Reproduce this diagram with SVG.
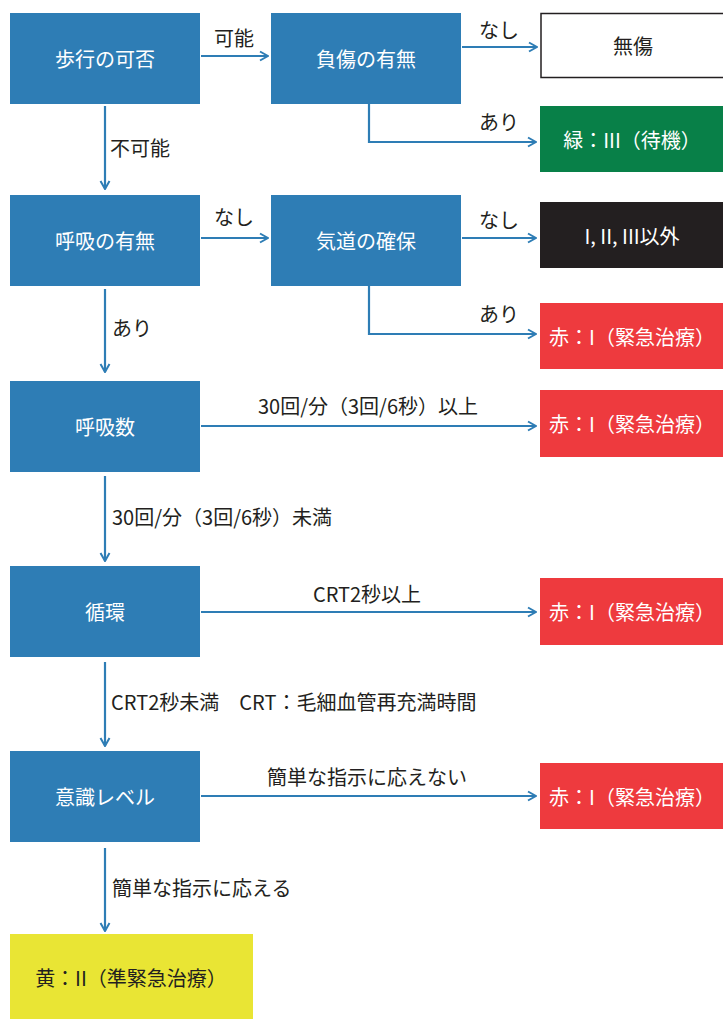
<svg xmlns="http://www.w3.org/2000/svg" width="723" height="1019" viewBox="0 0 723 1019">
<defs>
<marker id="arr" viewBox="0 0 12 12" refX="11" refY="6" markerWidth="12" markerHeight="12" markerUnits="userSpaceOnUse" orient="auto">
<polyline points="3,1.5 11,6 3,10.5" fill="none" stroke="#2e7db5" stroke-width="2"/>
</marker>
</defs>
<style>
text{font-family:"Noto Sans CJK JP","Noto Sans",sans-serif;font-size:20px;dominant-baseline:central}
.box{fill:#2e7db5}
.w{fill:#ffffff;text-anchor:middle}
.d{fill:#231f20}
.c{text-anchor:middle}
.red{fill:#ee3a3e}
.con{fill:none;stroke:#2e7db5;stroke-width:2.2;marker-end:url(#arr)}
</style>
<rect width="723" height="1019" fill="#ffffff"/>
<g id="connectors">
<line class="con" x1="201" y1="56" x2="268" y2="56"/>
<line class="con" x1="105" y1="106" x2="105" y2="189"/>
<line class="con" x1="462" y1="47" x2="537" y2="47"/>
<polyline class="con" points="369,104 369,142 536,142"/>
<line class="con" x1="201" y1="238" x2="268" y2="238"/>
<line class="con" x1="462" y1="238" x2="536" y2="238"/>
<polyline class="con" points="369,286 369,334 536,334"/>
<line class="con" x1="105" y1="289" x2="105" y2="372"/>
<line class="con" x1="201" y1="426" x2="536" y2="426"/>
<line class="con" x1="105" y1="476" x2="105" y2="561"/>
<line class="con" x1="201" y1="612" x2="536" y2="612"/>
<line class="con" x1="105" y1="662" x2="105" y2="746"/>
<line class="con" x1="201" y1="796" x2="536" y2="796"/>
<line class="con" x1="105" y1="848" x2="105" y2="931"/>
<text class="d c" x="234" y="37">可能</text>
<text class="d" x="110" y="147">不可能</text>
<text class="d c" x="499" y="29">なし</text>
<text class="d c" x="499" y="121">あり</text>
<text class="d c" x="234" y="216">なし</text>
<text class="d c" x="499" y="219">なし</text>
<text class="d c" x="499" y="313">あり</text>
<text class="d" x="112" y="327">あり</text>
<text class="d c" x="368" y="405">30回/分（3回/6秒）以上</text>
<text class="d" x="112" y="516">30回/分（3回/6秒）未満</text>
<text class="d c" x="367" y="593">CRT2秒以上</text>
<text class="d" x="111" y="701">CRT2秒未満　CRT：毛細血管再充満時間</text>
<text class="d c" x="367" y="776">簡単な指示に応えない</text>
<text class="d" x="112" y="887">簡単な指示に応える</text>
</g>
<g id="walk"><rect class="box" x="10" y="13" width="190" height="91"/><text class="w" x="105" y="58">歩行の可否</text></g>
<g id="injury"><rect class="box" x="271" y="13" width="190" height="91"/><text class="w" x="366" y="58">負傷の有無</text></g>
<g id="uninjured"><rect x="541" y="13.5" width="183" height="64" fill="#ffffff" stroke="#231f20" stroke-width="1.5"/><text class="d c" x="633" y="45">無傷</text></g>
<g id="green"><rect x="540" y="106" width="183" height="66" fill="#088048"/><text class="w" x="632" y="139">緑：III（待機）</text></g>
<g id="breath"><rect class="box" x="10" y="195" width="190" height="91"/><text class="w" x="105" y="240">呼吸の有無</text></g>
<g id="airway"><rect class="box" x="271" y="195" width="190" height="91"/><text class="w" x="366" y="240">気道の確保</text></g>
<g id="black"><rect x="540" y="202" width="183" height="66" fill="#231f20"/><text class="w" x="632" y="235">I, II, III以外</text></g>
<g id="red1"><rect class="red" x="540" y="303" width="183" height="66"/><text class="w" x="632" y="336">赤：I（緊急治療）</text></g>
<g id="rate"><rect class="box" x="10" y="381" width="190" height="91"/><text class="w" x="105" y="426">呼吸数</text></g>
<g id="red2"><rect class="red" x="540" y="390" width="183" height="67"/><text class="w" x="632" y="423">赤：I（緊急治療）</text></g>
<g id="circ"><rect class="box" x="10" y="566" width="190" height="91"/><text class="w" x="105" y="611">循環</text></g>
<g id="red3"><rect class="red" x="540" y="578" width="183" height="67"/><text class="w" x="632" y="611">赤：I（緊急治療）</text></g>
<g id="conscious"><rect class="box" x="10" y="751" width="190" height="91"/><text class="w" x="105" y="796">意識レベル</text></g>
<g id="red4"><rect class="red" x="540" y="763" width="183" height="66"/><text class="w" x="632" y="796">赤：I（緊急治療）</text></g>
<g id="yellow"><rect x="10" y="934" width="243" height="85" fill="#e9e534"/><text class="d c" x="131" y="977">黄：II（準緊急治療）</text></g>
</svg>
